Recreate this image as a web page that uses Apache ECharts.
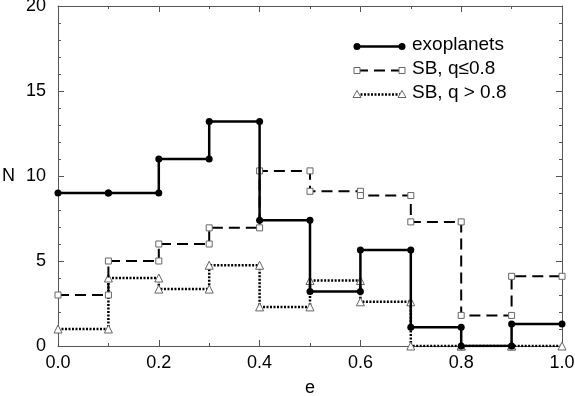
<!DOCTYPE html>
<html>
<head>
<meta charset="utf-8">
<script src="https://cdn.jsdelivr.net/npm/echarts@6/dist/echarts.min.js"></script>
<style>
  html, body { margin: 0; padding: 0; background: #fff; }
  #chart { width: 575px; height: 396px; }
</style>
</head>
<body>
<div id="chart"></div>
<script>
// bin edges in e
var binEdges = [0, 0.1, 0.2, 0.3, 0.4, 0.5, 0.6, 0.7, 0.8, 0.9, 1.0];
// counts per bin
var exoplanets = [9, 9, 11, 13.2, 7.4, 3.2, 5.65, 1.1, 0, 1.3];
var sbLow = [3, 5, 6, 6.95, 10.3, 9.1, 8.85, 7.3, 1.8, 4.1];
var sbHigh = [1, 4, 3.35, 4.75, 2.3, 3.85, 2.6, 0, 0, 0];
var seriesNames = ['exoplanets', 'SB, q\u22640.8', 'SB, q > 0.8'];

// turn bins into step points (marker at both ends of each bin)
function steps(vals) {
    var pts = [];
    for (var i = 0; i < vals.length; i++) {
        pts.push([binEdges[i], vals[i]]);
        pts.push([binEdges[i + 1], vals[i]]);
    }
    return pts;
}

var font = 'Liberation Sans, Arial, Helvetica, sans-serif';
var axisCol = '#555';

function xAx(pos, showLabel) {
    return {
        type: 'value', position: pos, min: 0, max: 1, interval: 0.2,
        name: showLabel ? 'e' : '', nameLocation: 'middle', nameGap: 33,
        nameTextStyle: { fontFamily: font, fontSize: 18, color: '#000' },
        axisLine: { show: true, onZero: false, lineStyle: { color: axisCol, width: 1 } },
        axisTick: { show: true, inside: true, length: 6, lineStyle: { color: axisCol } },
        minorTick: { show: true, splitNumber: 2, length: 3, lineStyle: { color: axisCol } },
        axisLabel: { show: showLabel, margin: 8, fontFamily: font, fontSize: 18, color: '#000',
            formatter: function (v) { return v.toFixed(1); } },
        splitLine: { show: false }
    };
}

function yAx(pos, showLabel) {
    return {
        type: 'value', position: pos, min: 0, max: 20, interval: 5,
        name: showLabel ? 'N' : '', nameLocation: 'middle', nameGap: 43, nameRotate: 0,
        nameTextStyle: { fontFamily: font, fontSize: 18, color: '#000', padding: [0, 0, 8, 0] },
        axisLine: { show: true, onZero: false, lineStyle: { color: axisCol, width: 1 } },
        axisTick: { show: true, inside: true, length: 6, lineStyle: { color: axisCol } },
        minorTick: { show: true, splitNumber: 5, length: 3, lineStyle: { color: axisCol } },
        axisLabel: { show: showLabel, margin: 12, fontFamily: font, fontSize: 18, color: '#000' },
        splitLine: { show: false }
    };
}

var chart = echarts.init(document.getElementById('chart'), null, { renderer: 'canvas' });

// legend drawn by hand so each sample has a symbol at both ends
var legendStyles = [
    { dash: 'solid', width: 2.5, sym: 'circle' },
    { dash: [11, 6], width: 2, sym: 'square' },
    { dash: [2, 1.5], width: 2.5, sym: 'triangle' }
];
var legendGraphics = [];
for (var k = 0; k < 3; k++) {
    var y = 46.5 + k * 24;
    var st = legendStyles[k];
    legendGraphics.push({
        type: 'line', shape: { x1: 357, y1: y, x2: 402, y2: y },
        style: { stroke: '#000', lineWidth: st.width, lineDash: st.dash === 'solid' ? null : st.dash }
    });
    [357, 402].forEach(function (x) {
        if (st.sym === 'circle') {
            legendGraphics.push({ type: 'circle', shape: { cx: x, cy: y, r: 3.5 }, style: { fill: '#000' } });
        } else if (st.sym === 'square') {
            legendGraphics.push({ type: 'rect', shape: { x: x - 3, y: y - 3, width: 6, height: 6 },
                style: { fill: '#fff', stroke: '#666', lineWidth: 1 } });
        } else {
            legendGraphics.push({ type: 'polygon', shape: { points: [[x, y - 4], [x - 4, y + 3], [x + 4, y + 3]] },
                style: { fill: '#fff', stroke: '#666', lineWidth: 1 } });
        }
    });
    legendGraphics.push({
        type: 'text', left: 412, top: y - 11,
        style: { text: seriesNames[k], font: '19px ' + font, fill: '#000' }
    });
}

var option = {
    backgroundColor: '#fff',
    animation: false,
    grid: { left: 58, right: 13, top: 6, bottom: 50, outerBoundsMode: 'none' },
    xAxis: [xAx('bottom', true), xAx('top', false)],
    yAxis: [yAx('left', true), yAx('right', false)],
    graphic: legendGraphics,
    series: [
        {
            name: seriesNames[0], type: 'line', data: steps(exoplanets),
            symbol: 'circle', symbolSize: 7, z: 5,
            lineStyle: { color: '#000', width: 2.5 },
            itemStyle: { color: '#000' }
        },
        {
            name: seriesNames[1], type: 'line', data: steps(sbLow),
            symbol: 'rect', symbolSize: 6, z: 4,
            lineStyle: { color: '#000', width: 2, type: [11, 6] },
            itemStyle: { color: '#fff', borderColor: '#666', borderWidth: 1 }
        },
        {
            name: seriesNames[2], type: 'line', data: steps(sbHigh),
            symbol: 'triangle', symbolSize: 8, z: 3,
            lineStyle: { color: '#000', width: 2.5, type: [2, 1.5] },
            itemStyle: { color: '#fff', borderColor: '#666', borderWidth: 1 }
        }
    ]
};

chart.setOption(option);
</script>
</body>
</html>
